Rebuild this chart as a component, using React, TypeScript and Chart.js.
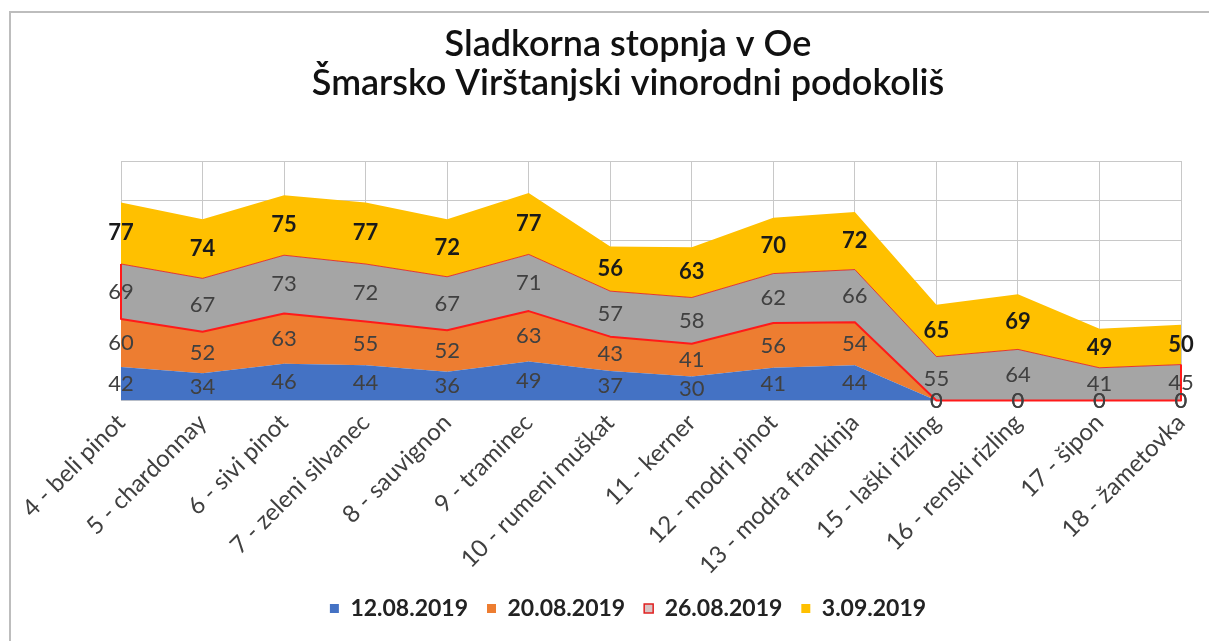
import React, { useEffect, useRef } from 'react';
import { Chart, registerables } from 'chart.js';

Chart.register(...registerables);

const titleLines = ['Sladkorna stopnja v Oe', 'Šmarsko Virštanjski vinorodni podokoliš'];
const categories = [
  '4 - beli pinot',
  '5 - chardonnay',
  '6 - sivi pinot',
  '7 - zeleni silvanec',
  '8 - sauvignon',
  '9 - traminec',
  '10 - rumeni muškat',
  '11 - kerner',
  '12 - modri pinot',
  '13 - modra frankinja',
  '15 - laški rizling',
  '16 - renski rizling',
  '17 - šipon',
  '18 - žametovka',
];
const seriesNames = ['12.08.2019', '20.08.2019', '26.08.2019', '3.09.2019'];
const values1208 = [42, 34, 46, 44, 36, 49, 37, 30, 41, 44, 0, 0, 0, 0];
const values2008 = [60, 52, 63, 55, 52, 63, 43, 41, 56, 54, 0, 0, 0, 0];
const values2608 = [69, 67, 73, 72, 67, 71, 57, 58, 62, 66, 55, 64, 41, 45];
const values0309 = [77, 74, 75, 77, 72, 77, 56, 63, 70, 72, 65, 69, 49, 50];
const yMin = 0;
const yMax = 300;
const yStep = 50;

const FONT = 'Lato, "Open Sans", sans-serif';
const allSeries = [values1208, values2008, values2608, values0309];

const framePlugin = {
  id: 'frame',
  beforeDraw(chart: any) {
    const ctx = chart.ctx;
    ctx.save();
    ctx.fillStyle = '#ffffff';
    ctx.fillRect(0, 0, chart.width, chart.height);
    ctx.strokeStyle = '#bdbdbd';
    ctx.lineWidth = 2;
    ctx.beginPath();
    ctx.moveTo(10, chart.height);
    ctx.lineTo(10, 12);
    ctx.lineTo(chart.width, 12);
    ctx.stroke();
    ctx.restore();
  },
};

const outlinePlugin = {
  id: 'grayOutline',
  afterDatasetsDraw(chart: any) {
    const ctx = chart.ctx;
    const xs = chart.scales.x;
    const ys = chart.scales.y;
    const n = categories.length;
    ctx.save();
    ctx.strokeStyle = '#ff1a1a';
    ctx.lineWidth = 2;
    ctx.lineJoin = 'round';
    ctx.beginPath();
    const top0 = values1208[0] + values2008[0] + values2608[0];
    ctx.moveTo(xs.getPixelForValue(0), ys.getPixelForValue(top0));
    for (let i = 0; i < n; i++) {
      const b = values1208[i] + values2008[i];
      ctx.lineTo(xs.getPixelForValue(i), ys.getPixelForValue(b));
    }
    const topN = values1208[n - 1] + values2008[n - 1] + values2608[n - 1];
    ctx.lineTo(xs.getPixelForValue(n - 1), ys.getPixelForValue(topN));
    ctx.stroke();
    ctx.restore();
  },
};

const labelPlugin = {
  id: 'bandLabels',
  afterDatasetsDraw(chart: any) {
    const ctx = chart.ctx;
    const xs = chart.scales.x;
    const ys = chart.scales.y;
    ctx.save();
    ctx.textAlign = 'center';
    ctx.textBaseline = 'middle';
    for (let i = 0; i < categories.length; i++) {
      let base = 0;
      allSeries.forEach((s, d) => {
        const v = s[i];
        const y0 = ys.getPixelForValue(base);
        const y1 = ys.getPixelForValue(base + v);
        base += v;
        const isLast = d === allSeries.length - 1;
        ctx.font = (isLast ? 'bold ' : '') + '22px ' + FONT;
        ctx.fillStyle = isLast ? '#1a1a1a' : '#404040';
        ctx.fillText(String(v), xs.getPixelForValue(i), (y0 + y1) / 2);
      });
    }
    ctx.restore();
  },
};

export default function App() {
  const ref = useRef<HTMLCanvasElement>(null);

  useEffect(() => {
    if (!ref.current) return;
    const colors = ['#4472C4', '#ED7D31', '#A5A5A5', '#FFC000'];
    const chart = new Chart(ref.current, {
      type: 'line',
      data: {
        labels: categories,
        datasets: allSeries.map((s, d) => ({
          label: seriesNames[d],
          data: s,
          backgroundColor: colors[d],
          borderColor: d === 2 ? 'rgba(230,30,30,0.85)' : 'transparent',
          borderWidth: d === 2 ? 1 : 0,
          fill: d === 0 ? 'origin' : '-1',
          pointRadius: 0,
          pointHoverRadius: 0,
          tension: 0,
        })),
      },
      options: {
        responsive: false,
        animation: false,
        events: [],
        layout: { padding: { top: 0, left: 75, right: 28, bottom: 11 } },
        plugins: {
          title: {
            display: true,
            text: titleLines,
            color: '#111111',
            font: { family: FONT, size: 36, weight: '600', lineHeight: 39 / 36 },
            padding: { top: 25, bottom: 58 },
          },
          legend: {
            display: true,
            position: 'bottom',
            labels: {
              font: { family: FONT, size: 23, weight: 'bold' },
              color: '#222222',
              boxWidth: 9,
              boxHeight: 9,
              padding: 19,
              generateLabels: (chart: any) =>
                chart.data.datasets.map((ds: any, i: number) => ({
                  text: ds.label,
                  fillStyle: i === 2 ? '#d9c4c4' : ds.backgroundColor,
                  strokeStyle: i === 2 ? '#e02020' : 'transparent',
                  lineWidth: i === 2 ? 1.5 : 0,
                  hidden: false,
                  datasetIndex: i,
                  fontColor: '#222222',
                })),
            },
          },
          tooltip: { enabled: false },
        },
        scales: {
          x: {
            type: 'category',
            offset: false,
            grid: { color: '#c8c8c8', drawTicks: false, lineWidth: 1 },
            border: { display: true, color: '#c8c8c8' },
            ticks: {
              font: { family: FONT, size: 24 },
              color: '#404040',
              minRotation: 45,
              maxRotation: 45,
              autoSkip: false,
              padding: 8,
            },
            afterFit: (s: any) => {
              s.height = 177.5;
              s.paddingLeft = 0;
              s.paddingRight = 0;
            },
          },
          y: {
            stacked: true,
            min: yMin,
            max: yMax,
            ticks: { display: false, stepSize: yStep },
            grid: { color: '#c8c8c8', drawTicks: false, lineWidth: 1 },
            border: { display: false },
            afterFit: (s: any) => {
              s.width = 46;
            },
          },
        },
      },
      plugins: [framePlugin, outlinePlugin, labelPlugin],
    } as any);
    return () => chart.destroy();
  }, []);

  return (
    <div style={{ position: 'absolute', left: 0, top: 0, width: 1209, height: 641 }}>
      <canvas ref={ref} width={1209} height={641} style={{ display: 'block' }} />
    </div>
  );
}
